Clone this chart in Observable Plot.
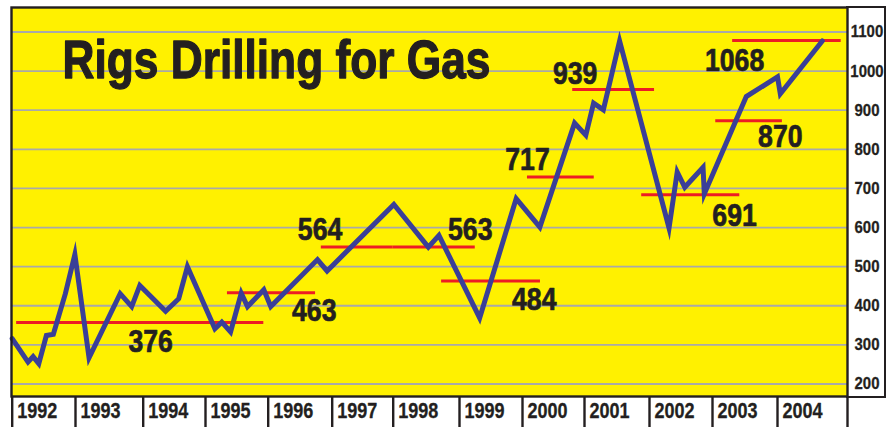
<!DOCTYPE html>
<html>
<head>
<meta charset="utf-8">
<script src="https://cdn.jsdelivr.net/npm/d3@7"></script>
<script src="https://cdn.jsdelivr.net/npm/@observablehq/plot@0.6"></script>
<style>
  html, body { margin: 0; padding: 0; background: #fff; }
  #wrap { position: relative; width: 894px; height: 427px; overflow: hidden; }
  #wrap svg { display: block; }
  #rightbox { position: absolute; left: 846px; top: 6px; width: 38px; height: 388px;
    border-top: 2.4px solid #231f20; border-right: 2.4px solid #231f20; border-bottom: 2.4px solid #231f20; pointer-events: none; }
</style>
</head>
<body>
<div id="wrap"><div id="rightbox"></div></div>
<script>
// ---- Data ----
const title = "Rigs Drilling for Gas";

// rig counts (decimal year, rigs)
const rigDates = [1992.0, 1992.25, 1992.33, 1992.42, 1992.54, 1992.65, 1992.84, 1992.99,
  1993.2, 1993.66, 1993.83, 1993.95, 1994.36, 1994.57, 1994.71, 1995.15, 1995.26, 1995.4,
  1995.57, 1995.67, 1995.93, 1996.04, 1996.77, 1996.92, 1998.01, 1998.53, 1998.69, 1999.32,
  1999.9, 2000.28, 2000.84, 2001.02, 2001.14, 2001.29, 2001.54, 2002.31, 2002.44, 2002.56,
  2002.85, 2002.87, 2003.52, 2004.0, 2004.04, 2004.64];
const rigCounts = [316, 256, 270, 252, 324, 327, 431, 531,
  267, 431, 398, 452, 386, 418, 500, 341, 358, 333,
  432, 398, 441, 398, 518, 489, 659, 550, 580, 369,
  674, 601, 867, 836, 918, 901, 1077, 599, 742, 703,
  754, 686, 935, 985, 942, 1077];

// annual averages (red bars) and their labels
const avgText  = ["376", "463", "564", "563", "484", "717", "939", "691", "870", "1068"];
const avgFrom  = [1992.07, 1995.35, 1996.83, 1998.0, 1998.73, 2000.08, 2000.81, 2001.88, 2003.05, 2003.31];
const avgTo    = [1995.93, 1996.74, 1998.0, 1999.25, 2000.29, 2001.15, 2002.08, 2003.42, 2004.07, 2004.91];
const avgLevel = [357, 433, 550, 550, 463, 729, 953, 684, 873, 1078];
const labelYear  = [1994.12, 1996.72, 1996.81, 1999.17, 2000.19, 2000.08, 2000.85, 2003.34, 2004.04, 2003.34];
const labelValue = [280.5, 362, 567, 567, 390, 746, 968, 603, 805, 999];

// axes
const yearLabels = ["1992", "1993", "1994", "1995", "1996", "1997", "1998", "1999", "2000", "2001", "2002", "2003", "2004"];
const yearEdges  = [1992, 1993, 1994, 1995, 1996, 1997, 1998, 1999, 2000, 2001, 2002, 2003, 2004, 2005];
const yTicks = [200, 300, 400, 500, 600, 700, 800, 900, 1000, 1100];

// ---- Layout (pixel positions of the year cell borders in the original) ----
const edgePx = [11.7, 75, 142.7, 205, 267.7, 331.7, 392.7, 459, 522, 584, 649, 712, 777, 847];

const rigs = rigDates.map((d, i) => ({date: d, rigs: rigCounts[i]}));
const avgs = avgText.map((t, i) => ({text: t, from: avgFrom[i], to: avgTo[i], level: avgLevel[i], lx: labelYear[i], ly: labelValue[i]}));

const ink = "#231f20";
const font = "'Liberation Sans', Arial, sans-serif";

const chart = Plot.plot({
  width: 894,
  height: 427,
  marginLeft: 11,
  marginRight: 47,
  marginTop: 7,
  marginBottom: 31,
  style: {fontFamily: font, fontWeight: "bold", background: "transparent", overflow: "visible"},
  x: {type: "linear", domain: yearEdges, range: edgePx},
  y: {domain: [168, 1162.6], axis: null},
  marks: [
    Plot.frame({fill: "#fff100", stroke: null}),
    Plot.ruleY(yTicks, {stroke: "#a9a9a9", strokeWidth: 1.8}),
    Plot.ruleY(avgs, {y: "level", x1: "from", x2: "to", stroke: "#ed1c24", strokeWidth: 3}),
    Plot.line(rigs, {x: "date", y: "rigs", stroke: "#3a3f98", strokeWidth: 5, strokeLinejoin: "miter", strokeMiterlimit: 6}),
    Plot.text(avgs, {x: "lx", y: "ly", text: "text", lineAnchor: "bottom", textAnchor: "middle",
      fontSize: 31, fontWeight: "bold", fill: ink, stroke: ink, strokeWidth: 0.7}),
    Plot.text([title], {frameAnchor: "top-left", dx: 51, dy: 70, lineAnchor: "bottom", textAnchor: "start",
      fontSize: 54, fontWeight: "bold", fill: ink, stroke: ink, strokeWidth: 1.3}),
    Plot.text(yTicks, {y: d => d, text: d => String(d), frameAnchor: "right", dx: 19.5, textAnchor: "middle",
      fontSize: 17, fontWeight: "bold", fill: ink, stroke: ink, strokeWidth: 0.3}),
    Plot.axisX(yearEdges, {tickSize: 31, tickFormat: () => "", stroke: ink, strokeWidth: 2.4, label: null}),
    Plot.text(yearLabels, {x: d => +d, text: d => d, frameAnchor: "bottom", dy: 6, dx: 5, lineAnchor: "top", textAnchor: "start",
      fontSize: 22, fontWeight: "bold", fill: ink, stroke: ink, strokeWidth: 0.3}),
    Plot.frame({stroke: ink, strokeWidth: 2.4})
  ]
});

// Condense the glyphs horizontally (the original uses a condensed typeface).
// Each text is positioned by its transform's translate, so scaling after it keeps the anchor fixed.
const squeeze = {"54": 0.82, "31": 0.86, "22": 0.82, "17": 0.88};
chart.querySelectorAll("text").forEach(t => {
  const g = t.closest("[font-size]");
  const s = g ? squeeze[g.getAttribute("font-size")] : undefined;
  if (!s) return;
  const tr = t.getAttribute("transform") || "";
  t.setAttribute("transform", `${tr} scale(${s},1)`);
});
document.getElementById("wrap").prepend(chart);
</script>
</body>
</html>
